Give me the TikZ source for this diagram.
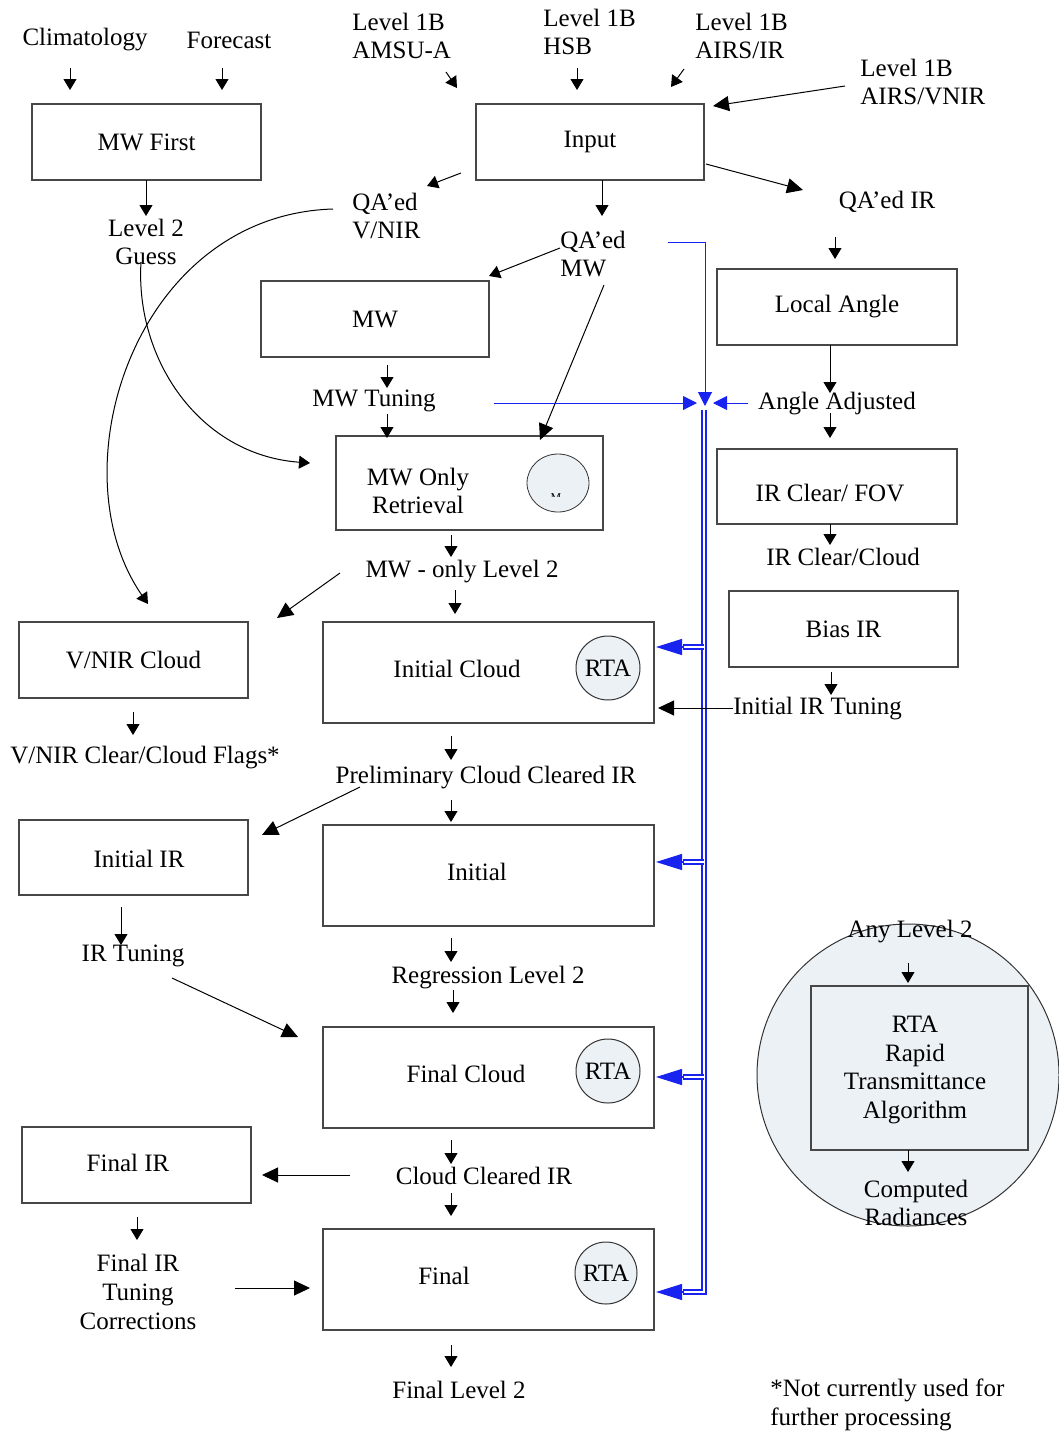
\documentclass[tikz,border=0pt]{standalone}
\usepackage{fontspec}
\setmainfont{Liberation Serif}
\usetikzlibrary{arrows.meta,shapes.geometric}
\definecolor{bl}{RGB}{25,35,240}
\definecolor{cfill}{RGB}{236,241,246}
\begin{document}
\begin{tikzpicture}[x=0.5pt,y=-0.5pt,
 every node/.style={font=\fontsize{12.5}{14.3}\selectfont, inner sep=0pt, align=center},
 box/.style={draw=black!72, line width=0.7pt},
 wide/.style={box, minimum width=114.5pt, minimum height=38pt},
 big/.style={box, minimum width=165.5pt, minimum height=50.5pt},
 arr/.style={line width=0.5pt, -{Triangle[length=5.5pt,width=6.5pt]}},
 arrL/.style={line width=0.5pt, -{Triangle[length=8pt,width=7.5pt]}},
 bar/.style={draw=bl, line width=0.5pt, -{Triangle[length=7pt,width=7pt,fill=bl]}},
 dbl/.style={draw=bl, double=white, double distance=1.2pt, line width=0.7pt},
 barbig/.style={draw=bl, line width=0.6pt, -{Triangle[length=13pt,width=8pt,fill=bl]}},
 rta/.style={circle, draw=black!80, fill=cfill, minimum size=32pt, line width=0.5pt}
]
\useasboundingbox (0,0) rectangle (1059,1435);

% ---------- big RTA circle ----------
\node[circle, draw=black!80, fill=cfill, line width=0.5pt, minimum size=151pt] (anyc) at (908,1075) {};
\node[box, fill=cfill, minimum width=108.5pt, minimum height=82pt] (rtabox) at (919.5,1068) {};
\node (rtat) at (915,1070) {RTA\\Rapid\\Transmittance\\Algorithm};
\node (anyl2) at (910,932) {Any Level 2};
\node (comp) at (916,1203) {Computed\\Radiances};
\draw[arr] (908,963) -- (908,983);
\draw[arr] (908,1150) -- (908,1172);

% ---------- boxes ----------
\node[wide] (mwfirst) at (146.5,142) {MW First};
\node[box, minimum width=114pt, minimum height=38pt] (input) at (590,142) {Input};
\node[box, minimum width=114pt, minimum height=38pt] (mw) at (375,319) {MW};
\node[box, minimum width=133.5pt, minimum height=47pt] (mwonly) at (469.5,483) {};
\node (mwonlyt) at (418,491) {MW Only\\Retrieval};
\node[ellipse, draw=black!80, fill=cfill, line width=0.4pt, minimum width=31pt, minimum height=29pt] (mwell) at (558,483) {};
\begin{scope}
\clip (530,470) rectangle (590,496);
\node[font=\fontsize{6}{7}\selectfont] (mwm) at (556,498) {M};
\end{scope}
\node[box, minimum width=120pt, minimum height=38pt] (local) at (837,307) {Local Angle};
\node[box, minimum width=120pt, minimum height=37.5pt] (irfov) at (837,486.5) {};
\node (irfovt) at (830,493) {IR Clear/ FOV};
\node[wide] (bias) at (843.5,629) {Bias IR};
\node[wide] (vnirc) at (133.5,660) {V/NIR Cloud};
\node[big] (initc) at (488.5,672.5) {};
\node (initct) at (457,669) {Initial Cloud};
\node[rta] (rta1) at (608,668) {RTA};
\node[wide, minimum height=37.5pt] (initir) at (133.5,857.5) {};
\node (initirt) at (139,859) {Initial IR};
\node[big] (initial) at (488.5,875.5) {};
\node (initialt) at (477,872) {Initial};
\node[big] (fcloud) at (488.5,1077.5) {};
\node (fcloudt) at (466,1074) {Final Cloud};
\node[rta] (rta2) at (608,1071) {RTA};
\node[wide] (finalir) at (136.5,1165) {};
\node (finalirt) at (128,1163) {Final IR};
\node[big] (final) at (488.5,1279.5) {};
\node (finalt) at (444,1276) {Final};
\node[rta, minimum size=31pt] (rta3) at (606,1273) {RTA};

% ---------- labels ----------
\node (clim) at (85,40) {Climatology};
\node (fore) at (229,40) {Forecast};
\node[anchor=west, align=left] (amsu) at (352,36) {Level 1B\\AMSU-A};
\node[anchor=west, align=left] (hsb) at (543,32) {Level 1B\\HSB};
\node[anchor=west, align=left] (airsir) at (695,36) {Level 1B\\AIRS/IR};
\node[anchor=west, align=left] (airsvnir) at (860,82) {Level 1B\\AIRS/VNIR};
\node[anchor=west, align=left] (qavnir) at (352,216) {QA’ed\\V/NIR};
\node[anchor=west, align=left] (qamw) at (560,254) {QA’ed\\MW};
\node (qair) at (887,202) {QA’ed IR};
\node (guess) at (146,242) {Level 2\\Guess};
\node (mwtun) at (374,401) {MW Tuning};
\node (angadj) at (837,404) {Angle Adjusted};
\node (irccl) at (843,557) {IR Clear/Cloud};
\node (mwl2) at (462,572) {MW - only Level 2};
\node (flags) at (145,758) {V/NIR Clear/Cloud Flags*};
\node[anchor=west] (iirt) at (733,709) {Initial IR Tuning};
\node (prelim) at (486,778) {Preliminary Cloud Cleared IR};
\node (irtun) at (133,956) {IR Tuning};
\node (regl2) at (488,978) {Regression Level 2};
\node (ccir) at (484,1176) {Cloud Cleared IR};
\node (firtc) at (138,1292) {Final IR\\Tuning\\Corrections};
\node (finl2) at (459,1390) {Final Level 2};
\node[anchor=west, align=left] (note) at (770,1405) {*Not currently used for\\further processing};

% ---------- black connectors ----------
\draw[arr] (70,68) -- (70,90);
\draw[arr] (222,68) -- (222,90);
\draw[arr] (446,72) -- (457,88);
\draw[arr] (577,68) -- (577,90);
\draw[arr] (684,69) -- (671,87);
\draw[arrL] (845,86) -- (713,106);
\draw[arr] (461,173) -- (427,186);
\draw[arr] (602,180) -- (602,216);
\draw[arrL] (706,164) -- (803,190);
\draw[arr] (835,237) -- (835,259);
\draw[arr] (146,180) -- (146,216);
\draw[arr] (560,248) -- (489,276);
\draw[arrL] (604,285) -- (540,440);
\draw[arr] (387,365) -- (387,388);
\draw[arr] (387,414) -- (387,438);
\draw[arr] (141,262) .. controls (135,360) and (200,455) .. (310,463);
\draw[arr] (333,209) .. controls (135,215) and (55,470) .. (148,604);
\draw[arr] (830,345) -- (830,393);
\draw[arr] (830,413) -- (830,438);
\draw[arr] (830,524) -- (830,545);
\draw[arr] (451,535) -- (451,557);
\draw[arrL] (340,573) -- (277,618);
\draw[arr] (455,590) -- (455,614);
\draw[arr] (133,712) -- (133,735);
\draw[arr] (831,672) -- (831,695);
\draw[arr] (451,736) -- (451,760);
\draw[arr] (451,800) -- (451,822);
\draw[arrL] (360,787) -- (262,835);
\draw[arr] (121,907) -- (121,945);
\draw[arrL] (172,978) -- (298,1037);
\draw[arr] (451,938) -- (451,962);
\draw[arr] (453,990) -- (453,1013);
\draw[arr] (451,1140) -- (451,1164);
\draw[arrL] (350,1175) -- (262,1175);
\draw[arr] (451,1193) -- (451,1216);
\draw[arr] (137,1217) -- (137,1240);
\draw[arrL] (235,1288) -- (310,1288);
\draw[arr] (451,1345) -- (451,1367);

% ---------- blue connectors ----------
\draw[bar] (668,242) -- (705,242) -- (705,406);
\draw[bar] (494,403) -- (697,403);
\draw[bar] (748,403) -- (713,403);
\draw[dbl] (704,410) -- (704,1292) -- (683,1292);
\foreach \yy in {647,862,1077} { \draw[dbl] (704,\yy) -- (683,\yy); }
\foreach \yy in {647,862,1077,1292} { \draw[barbig] (684,\yy) -- (656,\yy); }
\draw[arrL] (733,708) -- (658,708);
\end{tikzpicture}
\end{document}
